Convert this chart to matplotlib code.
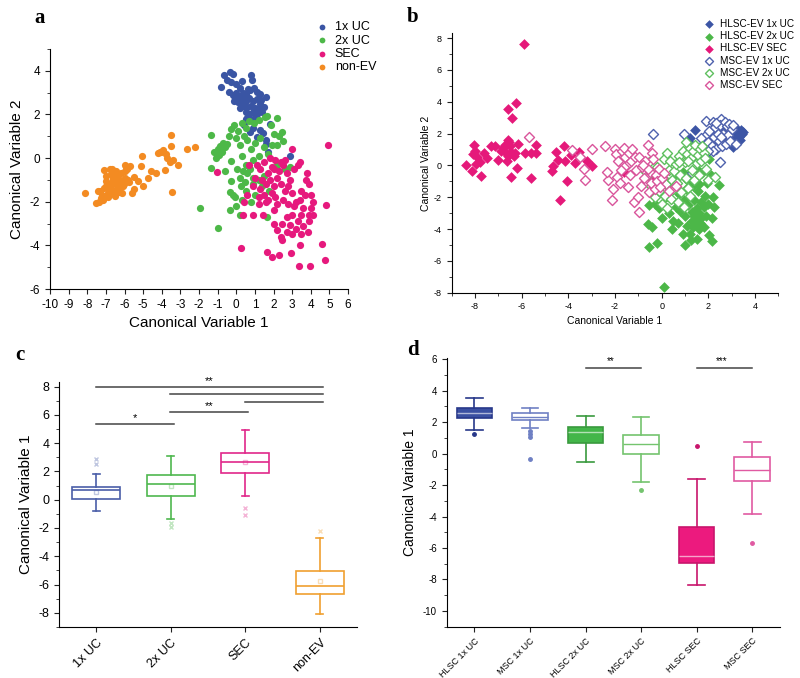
import matplotlib
matplotlib.use('Agg')
import matplotlib.pyplot as plt
from matplotlib.ticker import MultipleLocator

plt.rcParams['font.family'] = ['Liberation Sans', 'DejaVu Sans']
plt.rcParams['axes.unicode_minus'] = False

# ---------------- panel a : scatter, four groups ----------------
a_labels = ['1x UC', '2x UC', 'SEC', 'non-EV']
a_colors = ['#3a55a4', '#4db848', '#e6197d', '#f38b22']

a_1xuc = [(-0.65, 3.8), (-0.35, 3.95), (-0.15, 3.85), (-0.5, 3.6), (-0.8, 3.25), (-0.3, 3.5),
          (0.3, 3.55), (0.8, 3.8), (0.85, 3.6), (0.0, 3.4), (0.2, 3.2), (-0.4, 3.05), (-0.2, 2.9),
          (0.0, 3.0), (0.15, 2.85), (0.35, 3.0), (0.55, 2.95), (0.75, 3.1), (0.95, 3.2), (1.1, 3.05),
          (1.25, 2.95), (-0.1, 2.6), (0.1, 2.55), (0.3, 2.7), (0.5, 2.6), (0.7, 2.75), (0.9, 2.6),
          (1.1, 2.7), (1.3, 2.5), (1.6, 2.8), (1.5, 2.35), (0.2, 2.3), (0.4, 2.4), (0.6, 2.35),
          (0.8, 2.4), (1.0, 2.3), (1.2, 2.2), (0.5, 2.1), (0.7, 2.0), (0.9, 2.1), (1.1, 2.0),
          (0.6, 1.85), (0.8, 1.75), (1.0, 1.9), (0.45, 2.8), (0.25, 2.5), (0.65, 3.15), (-0.05, 2.75),
          (1.4, 2.1), (1.35, 2.65), (0.55, 1.8), (0.9, 1.4), (0.75, 1.2), (1.45, 1.15), (1.6, 0.85),
          (1.6, 0.65), (1.8, 1.55), (2.9, 0.08), (1.3, 1.3), (1.1, 0.95), (1.7, 0.3), (0.4, 1.5)]

a_2xuc = [(-1.35, 1.05), (-1.35, -0.45), (-1.95, -2.3), (-1.0, -3.2), (-1.2, 0.3), (-1.0, 0.4),
          (-0.85, 0.55), (-0.7, 0.7), (-0.6, 0.5), (-0.5, 0.65), (-0.95, 0.15), (-1.1, 0.0),
          (-0.75, 0.3), (-0.4, 1.0), (-0.3, 1.35), (-0.1, 1.5), (0.1, 1.25), (0.3, 1.6), (0.5, 1.4),
          (0.7, 1.7), (0.95, 1.6), (1.2, 1.75), (1.55, 1.9), (1.65, 1.95), (2.2, 1.85), (1.85, 1.5),
          (2.0, 1.1), (2.3, 1.0), (2.45, 1.2), (2.5, 0.8), (2.2, 0.6), (0.0, 0.9), (0.2, 0.6),
          (0.4, 1.0), (0.6, 0.85), (0.8, 0.4), (1.0, 0.7), (1.3, 0.9), (1.5, 0.5), (1.7, 0.2),
          (1.9, 0.6), (1.2, 0.1), (0.9, -0.1), (-0.3, -0.15), (0.3, 0.1), (0.5, -0.3), (0.35, -0.6),
          (0.2, -0.9), (0.45, -1.1), (0.6, -0.7), (0.75, -0.5), (0.9, -0.9), (0.05, -0.5),
          (-0.3, -1.05), (-0.35, -1.55), (-0.2, -1.7), (-0.05, -1.8), (0.25, -1.3), (0.55, -1.5),
          (0.3, -1.9), (-0.35, -2.4), (0.0, -2.2), (0.2, -2.6), (0.9, -1.2), (1.2, -1.0),
          (1.5, -0.8), (1.75, -1.5), (1.65, -2.7), (2.2, -0.3), (2.6, -0.5), (2.9, -0.4),
          (1.0, -1.7), (0.8, -2.0), (1.4, -1.3), (-0.6, -0.6)]

a_sec = [(4.9, 0.58), (4.8, -2.15), (4.75, -4.65), (4.6, -3.95), (3.95, -4.95), (3.35, -4.95),
         (2.95, -4.35), (2.3, -4.45), (1.9, -4.55), (1.65, -4.3), (0.25, -4.1), (-1.05, -0.65),
         (0.35, -2.6), (0.9, -2.6), (1.45, -2.6), (3.0, 0.4), (0.4, -2.0), (0.6, -1.7), (0.9, -1.3),
         (1.1, -0.3), (1.3, -0.5), (1.5, -0.2), (1.7, -0.7), (1.9, -0.4), (2.1, -0.1), (2.3, -0.6),
         (2.5, -0.3), (2.7, -0.7), (2.9, -1.0), (3.1, -0.5), (3.3, -0.3), (1.4, -1.0), (1.6, -1.2),
         (1.8, -1.0), (2.0, -1.3), (2.2, -0.9), (2.4, -1.2), (2.6, -1.5), (2.8, -1.3), (3.0, -1.6),
         (1.5, -1.7), (1.7, -1.9), (1.9, -1.6), (2.1, -1.8), (1.3, -1.4), (1.0, -0.9), (1.2, -1.8),
         (1.6, -2.0), (2.2, -2.1), (2.5, -1.9), (2.8, -2.1), (3.1, -2.2), (3.4, -1.9), (3.7, -1.7),
         (3.9, -1.2), (4.0, -1.7), (4.1, -2.0), (3.8, -0.7), (3.75, -1.0), (3.5, -1.5), (3.6, -2.3),
         (4.0, -2.3), (4.1, -2.6), (3.9, -2.9), (3.6, -3.1), (3.3, -2.9), (3.0, -2.6), (2.7, -2.7),
         (2.45, -3.0), (2.2, -3.3), (2.4, -3.6), (2.7, -3.4), (3.0, -3.5), (3.2, -3.25), (3.45, -3.5),
         (3.4, -4.0), (2.45, -3.75), (2.0, -3.0), (2.05, -2.4), (2.9, -3.05), (3.2, -2.0), (3.5, -2.6),
         (3.85, -3.4), (2.0, -0.5), (2.6, -0.1), (3.4, -0.2), (2.4, -0.2), (1.8, 0.0), (1.2, -2.1),
         (0.7, -0.3), (3.9, -2.6)]

a_nonev = [(-8.1, -1.6), (-7.55, -2.05), (-7.35, -2.0), (-7.15, -1.9), (-7.1, -0.55), (-6.8, -0.5),
           (-6.65, -0.5), (-7.3, -1.5), (-7.0, -1.3), (-6.9, -1.6), (-7.2, -1.7), (-6.6, -1.0),
           (-6.4, -1.3), (-6.2, -1.1), (-6.0, -0.9), (-6.3, -1.45), (-6.5, -1.5), (-6.7, -1.2),
           (-6.9, -1.8), (-7.1, -1.35), (-6.8, -1.65), (-6.4, -0.8), (-6.2, -0.7), (-6.0, -0.6),
           (-5.9, -0.4), (-5.8, -1.0), (-6.1, -1.3), (-6.3, -1.55), (-6.5, -1.75), (-6.6, -0.9),
           (-6.75, -0.75), (-7.0, -1.05), (-6.85, -1.4), (-6.55, -1.1), (-6.25, -1.0), (-6.05, -1.2),
           (-5.85, -0.5), (-5.7, -0.35), (-5.6, -1.6), (-5.5, -0.85), (-6.45, -0.6), (-6.15, -1.6),
           (-7.4, -1.5), (-7.25, -1.85), (-5.95, -0.3), (-5.75, -1.1), (-5.1, -0.35), (-5.05, 0.1),
           (-5.0, -1.3), (-4.75, -0.9), (-4.3, -0.7), (-4.2, 0.25), (-4.1, 0.3), (-3.95, 0.35),
           (-3.85, -0.55), (-3.75, 0.2), (-3.5, 1.05), (-3.5, 0.55), (-3.45, -1.55), (-3.55, -0.2),
           (-3.4, -0.1), (-3.15, -0.3), (-2.65, 0.4), (-2.2, 0.5), (-4.05, 0.3), (-3.7, 0.0),
           (-5.3, -1.05), (-5.5, -1.4), (-4.6, -0.6), (-6.35, -0.95), (-6.7, -1.4), (-7.0, -0.8)]

# ---------------- panel b : scatter, HLSC (filled) vs MSC (open) ----------------
b_labels = ['HLSC-EV 1x UC', 'HLSC-EV 2x UC', 'HLSC-EV SEC',
            'MSC-EV 1x UC', 'MSC-EV 2x UC', 'MSC-EV SEC']

b_hlsc_1xuc = [(1.2, 1.75), (1.25, 1.35), (1.45, 2.25), (1.7, 1.2), (2.0, 1.3), (2.1, 1.6), (2.2, 1.95),
               (2.3, 1.5), (2.4, 1.75), (2.5, 2.1), (2.55, 1.4), (2.6, 1.85), (2.7, 2.3), (2.75, 1.6),
               (2.8, 2.0), (2.85, 1.75), (2.9, 1.45), (2.95, 2.2), (3.0, 1.85), (3.05, 1.15), (3.05, 2.0),
               (3.1, 1.7), (3.15, 2.1), (3.2, 1.9), (3.25, 2.3), (3.3, 1.8), (3.3, 2.05), (3.4, 2.2),
               (3.45, 2.0), (3.5, 2.1), (3.35, 1.6), (1.85, 1.0), (2.2, 1.2), (1.5, 0.9), (2.65, 2.55)]

b_hlsc_2xuc = [(0.1, -7.65), (-0.55, -5.1), (-0.2, -4.85), (2.15, -4.75), (2.15, -3.3), (2.45, -1.25),
               (2.05, 0.4), (-0.6, -3.7), (-0.4, -3.85), (-0.55, -2.5), (-0.3, -2.4), (-0.1, -2.7),
               (0.0, -3.3), (0.2, -2.0), (0.3, -3.0), (0.35, -1.5), (0.5, -3.5), (0.6, -2.6), (0.7, -3.6),
               (0.75, -1.8), (0.8, -2.85), (0.9, -4.3), (0.95, -2.2), (1.0, -3.2), (1.05, -1.5),
               (1.1, -3.8), (1.15, -2.5), (1.2, -4.3), (1.25, -1.0), (1.3, -2.9), (1.3, -3.5),
               (1.35, -3.9), (1.4, -2.2), (1.4, -3.2), (1.45, -3.7), (1.5, -4.6), (1.5, -2.7),
               (1.55, -3.3), (1.55, -1.6), (1.6, -3.0), (1.6, -4.0), (1.65, -3.6), (1.7, -2.3),
               (1.7, -3.3), (1.75, -0.5), (1.8, -2.6), (1.8, -3.9), (1.85, -1.9), (1.9, -3.2),
               (1.95, -1.1), (2.0, -2.4), (2.05, -4.4), (2.1, -0.6), (2.2, -2.0), (1.35, -1.3),
               (1.55, -0.3), (0.6, -0.7), (0.9, -0.4), (1.1, -0.9), (1.25, -4.7), (0.45, -4.0),
               (1.6, -1.2), (2.25, -2.6), (1.0, -5.0)]

b_hlsc_sec = [(-5.9, 7.65), (-6.6, 3.55), (-6.25, 3.9), (-6.4, 2.95), (-8.4, 0.05), (-8.15, -0.35),
              (-7.75, -0.65), (-8.05, 1.3), (-8.1, 0.7), (-8.0, 0.9), (-7.9, 0.5), (-7.95, 0.1),
              (-7.8, 0.2), (-7.6, 0.8), (-7.5, 0.45), (-7.3, 1.2), (-7.15, 1.2), (-7.0, 0.35),
              (-6.9, 0.9), (-6.8, 1.1), (-6.7, 1.3), (-6.6, 1.6), (-6.55, 1.45), (-6.5, 1.2),
              (-6.45, 0.85), (-6.6, 0.6), (-6.75, 0.9), (-6.35, 0.6), (-6.3, 0.75), (-6.65, 0.25),
              (-6.45, -0.75), (-6.2, -0.15), (-6.15, 1.35), (-5.85, 0.75), (-5.6, 0.75), (-5.4, 0.8),
              (-5.6, -0.8), (-5.4, 1.3), (-4.7, -0.35), (-4.65, -0.05), (-4.55, 0.85), (-4.45, 0.35),
              (-4.2, 1.2), (-4.15, 0.25), (-4.35, -2.2), (-4.05, -1.0), (-3.9, 0.65), (-3.7, 0.15),
              (-3.55, 0.85), (-3.2, 0.3), (-3.0, -0.05), (-1.6, -0.4), (-0.35, -0.9), (0.1, -1.1),
              (-0.2, -0.7)]

b_msc_1xuc = [(-0.35, 2.0), (0.95, 2.0), (1.9, 2.8), (2.2, 2.7), (2.55, 2.9), (2.5, 0.2), (1.3, -0.45),
              (1.9, 1.9), (2.0, 1.5), (2.05, 2.15), (2.15, 1.2), (2.25, 1.8), (2.3, 2.4), (2.35, 1.0),
              (2.45, 1.55), (2.5, 2.55), (2.6, 1.2), (2.65, 2.0), (2.7, 2.75), (2.75, 1.35), (2.8, 2.45),
              (2.85, 1.9), (2.9, 2.6), (2.95, 1.55), (3.0, 2.3), (3.05, 2.55), (2.4, 2.0), (2.2, 0.9),
              (1.7, 1.7), (1.8, 0.5), (2.55, 1.8), (2.35, 2.65), (3.2, 1.35), (1.6, 1.1), (2.0, 0.9)]

b_msc_2xuc = [(-0.55, 0.2), (-0.6, -0.6), (-0.45, -1.3), (-0.3, -2.0), (-0.2, -0.1), (-0.1, -1.6),
              (0.0, -2.4), (0.05, -0.8), (0.1, 0.4), (0.15, -1.9), (0.2, -1.2), (0.25, -2.7), (0.3, -0.3),
              (0.35, 0.25), (0.4, -2.1), (0.45, -0.9), (0.5, -1.5), (0.55, -0.35), (0.6, 0.1),
              (0.65, -1.1), (0.7, -2.3), (0.75, 0.6), (0.8, -0.6), (0.85, -1.7), (0.9, 0.9), (1.0, 0.2),
              (1.05, -0.8), (1.1, 0.7), (1.15, -1.4), (1.2, 1.1), (1.25, 0.45), (1.3, -0.3), (1.35, 0.9),
              (1.4, -0.9), (1.45, 1.3), (1.5, 0.15), (1.55, 0.65), (1.6, -0.6), (1.65, 1.0), (1.7, 0.3),
              (1.8, 0.8), (1.9, -0.2), (2.0, -0.9), (2.3, -0.75), (1.2, -1.9), (0.95, -2.6), (0.75, 0.2),
              (1.75, 1.2), (1.15, 0.3), (-0.75, -0.3), (0.25, 0.75), (1.05, 1.5), (1.85, 0.45)]

b_msc_sec = [(-5.7, 1.8), (-3.85, 0.95), (-3.5, 0.5), (-3.35, -0.2), (-3.3, -0.95), (-3.0, 1.05),
             (-2.45, 1.2), (-2.3, -0.95), (-2.15, -2.2), (-2.1, -1.5), (-2.0, 1.0), (-1.95, 0.7),
             (-1.9, -0.7), (-1.85, 0.3), (-1.8, -1.1), (-1.7, 0.9), (-1.6, 1.1), (-1.55, 0.5),
             (-1.5, 0.05), (-1.45, -1.35), (-1.4, 0.75), (-1.35, -0.6), (-1.3, 0.25), (-1.25, 1.0),
             (-1.2, -2.3), (-1.15, 0.55), (-1.1, -0.3), (-1.0, -2.0), (-0.95, -2.9), (-0.95, 0.5),
             (-0.9, -1.3), (-0.85, -0.1), (-0.75, -0.8), (-0.7, 0.3), (-0.6, 1.25), (-0.55, -1.7),
             (-0.5, -0.4), (-0.45, -1.1), (-0.4, 0.75), (-0.35, 0.4), (-0.3, -1.5), (-0.25, -0.6),
             (-0.2, -1.0), (-0.1, -0.2), (-0.05, -1.35), (0.0, -0.8), (0.1, -0.5), (0.3, -1.6),
             (0.6, -1.3), (-0.6, -0.2), (-1.6, -0.1), (-0.8, 0.05), (-2.35, -0.4), (-1.75, -0.3)]

# ---------------- panel c : box stats (Canonical Variable 1) ----------------
c_cats = ['1x UC', '2x UC', 'SEC', 'non-EV']
c_q1 = [0.02, 0.28, 1.91, -6.67]
c_med = [0.68, 1.13, 2.64, -6.08]
c_q3 = [0.92, 1.75, 3.33, -5.02]
c_lo = [-0.8, -1.39, 0.26, -8.09]
c_hi = [1.82, 3.11, 4.93, -2.71]
c_mean = [0.55, 1.0, 2.65, -5.75]
c_fliers = [[2.9, 2.5], [-1.65, -1.9], [-0.6, -1.05], [-2.2]]
c_colors = ['#4a5ea8', '#4fb84f', '#e0288a', '#f0a030']

# significance bars: (x_start, x_end, y, label)
c_sig = [(1, 4, 8.0, '**'), (2, 4, 7.45, ''), (3, 4, 6.9, ''), (2, 3, 6.18, '**'), (1, 2, 5.35, '*')]

# ---------------- panel d : box stats per cell source ----------------
d_cats = ['HLSC 1x UC', 'MSC 1x UC', 'HLSC 2x UC', 'MSC 2x UC', 'HLSC SEC', 'MSC SEC']
d_q1 = [2.29, 2.14, 0.66, -0.04, -6.97, -1.72]
d_med = [2.61, 2.35, 1.36, 0.59, -6.5, -1.04]
d_q3 = [2.88, 2.56, 1.67, 1.17, -4.64, -0.21]
d_lo = [1.5, 1.61, -0.55, -1.82, -8.35, -3.83]
d_hi = [3.52, 2.92, 2.42, 2.31, -1.61, 0.74]
d_fliers = [[1.23], [1.44, 1.25, 1.04, -0.34], [], [-2.31], [0.49], [-5.66]]
d_filled = [True, False, True, False, True, False]
d_face = ['#3b50a2', 'white', '#43b649', 'white', '#ec1a7e', 'white']
d_edge = ['#28388a', '#6f80c4', '#3a9a3e', '#74c46e', '#c8156c', '#e05aa2']
d_sig = [(3, 4, 5.42, '**'), (5, 6, 5.42, '***')]


def unzip(pts):
    return [p[0] for p in pts], [p[1] for p in pts]


def style_axes(ax):
    ax.spines['top'].set_visible(False)
    ax.spines['right'].set_visible(False)
    ax.tick_params(which='both', direction='out', color='#222')
    ax.tick_params(which='major', length=3.5)
    ax.tick_params(which='minor', length=2)


fig = plt.figure(figsize=(8, 6.78), dpi=100)

# ---- a
ax_a = fig.add_axes([0.0625, 0.5737, 0.3725, 0.354])
for pts, col, lab in zip([a_1xuc, a_2xuc, a_sec, a_nonev], a_colors, a_labels):
    xs, ys = unzip(pts)
    ax_a.scatter(xs, ys, s=27, color=col, label=lab, linewidths=0, zorder=3)
ax_a.set_xlim(-10, 6)
ax_a.set_ylim(-6, 5)
ax_a.set_xticks(range(-10, 7))
ax_a.yaxis.set_major_locator(MultipleLocator(2))
ax_a.yaxis.set_minor_locator(MultipleLocator(1))
style_axes(ax_a)
ax_a.tick_params(labelsize=8.5)
ax_a.set_xlabel('Canonical Variable 1', fontsize=11)
ax_a.set_ylabel('Canonical Variable 2', fontsize=11)
ax_a.legend(loc='upper left', bbox_to_anchor=(316 / 800, 1 - 21 / 678), bbox_transform=fig.transFigure,
            frameon=False, fontsize=9, handlelength=1, handletextpad=0.5, labelspacing=0.12,
            borderpad=0, borderaxespad=0, markerscale=0.8)

# ---- b
ax_b = fig.add_axes([0.5646, 0.5683, 0.4083, 0.3826])
b_sets = [b_hlsc_1xuc, b_hlsc_2xuc, b_hlsc_sec, b_msc_1xuc, b_msc_2xuc, b_msc_sec]
b_cols = ['#3c55a5', '#4cb748', '#e5197a', '#4f62ad', '#5fbf5f', '#d9559b']
for i, (pts, col, lab) in enumerate(zip(b_sets, b_cols, b_labels)):
    xs, ys = unzip(pts)
    if i < 3:
        ax_b.scatter(xs, ys, s=30, marker='D', color=col, linewidths=0, label=lab, zorder=3)
    else:
        ax_b.scatter(xs, ys, s=26, marker='D', facecolors='white', edgecolors=col,
                     linewidths=1.0, label=lab, zorder=4)
ax_b.set_xlim(-9, 5)
ax_b.set_ylim(-8, 8.3)
ax_b.xaxis.set_major_locator(MultipleLocator(2))
ax_b.xaxis.set_minor_locator(MultipleLocator(1))
ax_b.yaxis.set_major_locator(MultipleLocator(2))
ax_b.yaxis.set_minor_locator(MultipleLocator(1))
style_axes(ax_b)
ax_b.tick_params(labelsize=6.5)
ax_b.set_xlabel('Canonical Variable 1', fontsize=7.5, labelpad=3)
ax_b.set_ylabel('Canonical Variable 2', fontsize=7.5, labelpad=2)
ax_b.legend(loc='upper left', bbox_to_anchor=(704 / 800, 1 - 19 / 678), bbox_transform=fig.transFigure,
            frameon=False, fontsize=7.2, handlelength=1, handletextpad=0.6, labelspacing=0.22,
            borderpad=0, borderaxespad=0, markerscale=0.8)

# ---- c
ax_c = fig.add_axes([0.07375, 0.0752, 0.3725, 0.361])
for i in range(len(c_cats)):
    st = dict(med=c_med[i], q1=c_q1[i], q3=c_q3[i], whislo=c_lo[i], whishi=c_hi[i],
              mean=c_mean[i], fliers=c_fliers[i], label=c_cats[i])
    col = c_colors[i]
    ax_c.bxp([st], positions=[i + 1], widths=0.64, showmeans=True, patch_artist=True,
             boxprops=dict(facecolor='white', edgecolor=col, linewidth=1.2),
             medianprops=dict(color=col, linewidth=1.2),
             whiskerprops=dict(color=col, linewidth=1.2),
             capprops=dict(color=col, linewidth=1.2), capwidths=0.1,
             meanprops=dict(marker='s', markersize=3, markerfacecolor='none',
                            markeredgecolor=col, alpha=0.35),
             flierprops=dict(marker='x', markersize=3, markeredgecolor=col, alpha=0.35))
for x0, x1, y, lab in c_sig:
    ax_c.plot([x0 - 0.01, x1 + 0.04], [y, y], color='#444', linewidth=1.1)
    if lab:
        ax_c.text((x0 + x1) / 2 + 0.02, y + 0.05, lab, ha='center', va='bottom', fontsize=8)
ax_c.set_xlim(0.5, 4.5)
ax_c.set_ylim(-9, 8.3)
ax_c.set_xticks(range(1, 5))
ax_c.set_xticklabels(c_cats, rotation=45, ha='right', rotation_mode='anchor', fontsize=9)
ax_c.yaxis.set_major_locator(MultipleLocator(2))
ax_c.yaxis.set_minor_locator(MultipleLocator(1))
style_axes(ax_c)
ax_c.tick_params(axis='y', labelsize=9)
ax_c.set_ylabel('Canonical Variable 1', fontsize=11)

# ---- d
ax_d = fig.add_axes([0.5584, 0.0757, 0.4166, 0.3968])
for i in range(len(d_cats)):
    st = dict(med=d_med[i], q1=d_q1[i], q3=d_q3[i], whislo=d_lo[i], whishi=d_hi[i],
              fliers=d_fliers[i], label=d_cats[i])
    edge = d_edge[i]
    med_col = '#ffffff' if d_filled[i] else edge
    ax_d.bxp([st], positions=[i + 1], widths=0.64, patch_artist=True,
             boxprops=dict(facecolor=d_face[i], edgecolor=edge, linewidth=1.2),
             medianprops=dict(color=med_col, linewidth=1.0, alpha=0.6 if d_filled[i] else 1),
             whiskerprops=dict(color=edge, linewidth=1.2),
             capprops=dict(color=edge, linewidth=1.2), capwidths=0.3,
             flierprops=dict(marker='o', markersize=2.5, markerfacecolor=edge,
                             markeredgecolor=edge))
for x0, x1, y, lab in d_sig:
    ax_d.plot([x0, x1], [y, y], color='#444', linewidth=1.1)
    ax_d.text((x0 + x1) / 2 - 0.05, y + 0.12, lab, ha='center', va='bottom', fontsize=7)
ax_d.set_xlim(0.5, 6.5)
ax_d.set_ylim(-11, 6.1)
ax_d.set_xticks(range(1, 7))
ax_d.set_xticklabels(d_cats, rotation=45, ha='right', rotation_mode='anchor', fontsize=6.5)
ax_d.yaxis.set_major_locator(MultipleLocator(2))
ax_d.yaxis.set_minor_locator(MultipleLocator(1))
style_axes(ax_d)
ax_d.tick_params(axis='y', labelsize=7)
ax_d.set_ylabel('Canonical Variable 1', fontsize=10)

# panel letters
for lab, x, y in [('a', 40, 18), ('b', 413, 17), ('c', 20, 355), ('d', 413, 350)]:
    fig.text(x / 800, 1 - y / 678, lab, fontsize=15, fontweight='bold',
             family=['Liberation Serif', 'DejaVu Serif'], ha='center', va='center')

fig.savefig('out.png', dpi=100)
